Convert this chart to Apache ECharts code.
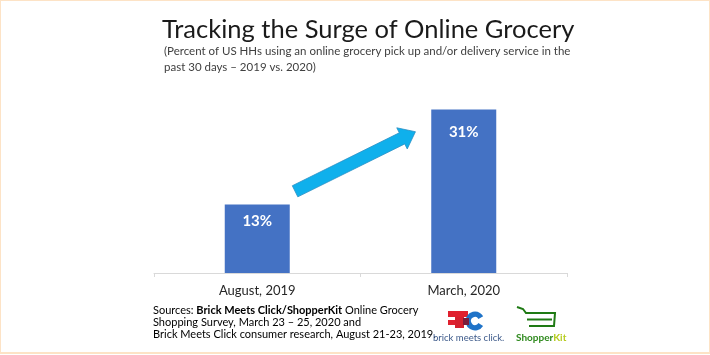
<!DOCTYPE html>
<html>
<head>
<meta charset="utf-8">
<script src="https://cdn.jsdelivr.net/npm/echarts@6/dist/echarts.min.js"></script>
<style>
html,body{margin:0;padding:0;background:#fff;}
#frame{position:absolute;left:0;top:0;width:710px;height:354px;box-sizing:border-box;border:1px solid #fde3c6;border-bottom-width:2px;}
#chart{position:absolute;left:0;top:0;width:710px;height:355px;}
</style>
</head>
<body>
<div id="chart"></div>
<div id="frame"></div>
<script>
const titleText = 'Tracking the Surge of Online Grocery';
const subtitleLines = ['(Percent of US HHs using an online grocery pick up and/or delivery service in the', 'past 30 days \u2013 2019 vs. 2020)'];
const categories = ['August, 2019', 'March, 2020'];
const values = [13, 31];
const valueLabels = ['13%', '31%'];
const yRange = [0, 35];

const FONT = 'Lato, "Open Sans", sans-serif';
const chart = echarts.init(document.getElementById('chart'), null, {renderer: 'canvas'});

const option = {
  backgroundColor: 'transparent',
  animation: false,
  title: [
    {text: titleText, left: 157, top: 12,
     textStyle: {fontFamily: FONT, fontWeight: 'normal', fontSize: 25.5, color: '#1a1a1a'}},
    {text: subtitleLines.join('\n'), left: 159, top: 38,
     textStyle: {fontFamily: FONT, fontWeight: 'normal', fontSize: 11.5, lineHeight: 16, color: '#404040'}}
  ],
  grid: {left: 154, right: 143, top: 88.5, bottom: 82},
  xAxis: {
    type: 'category',
    data: categories,
    axisLine: {lineStyle: {color: '#d9d9d9', width: 1}},
    axisTick: {show: true, length: 4, lineStyle: {color: '#d9d9d9'}},
    axisLabel: {fontFamily: FONT, fontSize: 13, color: '#262626', margin: 11}
  },
  yAxis: {type: 'value', min: yRange[0], max: yRange[1], show: false, splitLine: {show: false}},
  series: [{
    type: 'bar',
    barWidth: 65,
    itemStyle: {color: '#4472c4'},
    data: values.map((v, i) => ({
      value: v,
      label: {show: true, position: 'insideTop', distance: i === 0 ? 9 : 15,
              formatter: valueLabels[i], color: '#fff', fontWeight: 'bold',
              fontFamily: FONT, fontSize: 15}
    }))
  }],
  graphic: []
};
chart.setOption(option);

// Arrow annotation anchored to the chart's own scales
const tail = chart.convertToPixel({seriesIndex: 0}, [0, 15.5]);
const tip = chart.convertToPixel({seriesIndex: 0}, [1, 26.8]);
tail[0] += 37.8; tip[0] -= 48.3;
const dx = tip[0] - tail[0], dy = tip[1] - tail[1];
const len = Math.hypot(dx, dy);
const ux = dx / len, uy = dy / len, nx = -uy, ny = ux;
const w = 6.2, hw = 11.8, hl = 15;
const bx = tip[0] - ux * hl, by = tip[1] - uy * hl;
const pts = [
  [tail[0] + nx * w, tail[1] + ny * w],
  [bx + nx * w, by + ny * w],
  [bx + nx * hw, by + ny * hw],
  [tip[0], tip[1]],
  [bx - nx * hw, by - ny * hw],
  [bx - nx * w, by - ny * w],
  [tail[0] - nx * w, tail[1] - ny * w]
];

const sourcesText = '{n|Sources: }{b|Brick Meets Click/ShopperKit}{n| Online Grocery}\n{n|Shopping Survey, March 23 \u2013 25, 2020 and}\n{n|Brick Meets Click consumer research, August 21-23, 2019.}';

chart.setOption({
  graphic: [
    {type: 'polygon', shape: {points: pts}, style: {fill: '#0fb0ec', stroke: '#2b8fc4', lineWidth: 0.8}, z: 10},
    {type: 'text', left: 153, top: 305,
     style: {text: sourcesText, rich: {
       n: {fontFamily: FONT, fontSize: 11, color: '#1a1a1a', lineHeight: 11.8},
       b: {fontFamily: FONT, fontSize: 11, fontWeight: 'bold', color: '#1a1a1a', lineHeight: 11.8}
     }}},
    // brick meets click logo
    {type: 'group', x: 0, y: 0, children: [
      {type: 'rect', shape: {x: 448, y: 311, width: 20, height: 6}, style: {fill: '#e0202e'}},
      {type: 'rect', shape: {x: 455, y: 317, width: 9, height: 11}, style: {fill: '#d4202e'}},
      {type: 'rect', shape: {x: 448, y: 320, width: 7, height: 5}, style: {fill: '#e0202e'}},
      {type: 'sector', shape: {cx: 475, cy: 321, r0: 4, r: 9.5, startAngle: 0.55, endAngle: 5.75}, style: {fill: '#1f73c8'}},
      {type: 'rect', shape: {x: 463, y: 318, width: 6, height: 7}, style: {fill: '#7a1b3a'}},
      {type: 'text', x: 433, y: 333, style: {text: 'brick meets click.', fontFamily: FONT, fontSize: 9.5, fill: '#3d5a8a'}}
    ]},
    // ShopperKit logo
    {type: 'group', children: [
      {type: 'polyline', shape: {points: [[517, 307], [523, 309], [526, 313], [555, 313], [554, 326], [529, 326]]},
       style: {stroke: '#1f7a14', lineWidth: 2, fill: null}},
      {type: 'polyline', shape: {points: [[527, 319.5], [552, 319.5]]}, style: {stroke: '#1f7a14', lineWidth: 2}},
      {type: 'text', x: 516, y: 333, style: {
        text: '{g|Shopper}{y|Kit}', rich: {
          g: {fontFamily: FONT, fontSize: 10, fontWeight: 'bold', fill: '#2f8a1e'},
          y: {fontFamily: FONT, fontSize: 10, fontWeight: 'bold', fill: '#b7cc1e'}
        }}}
    ]}
  ]
});
</script>
</body>
</html>
